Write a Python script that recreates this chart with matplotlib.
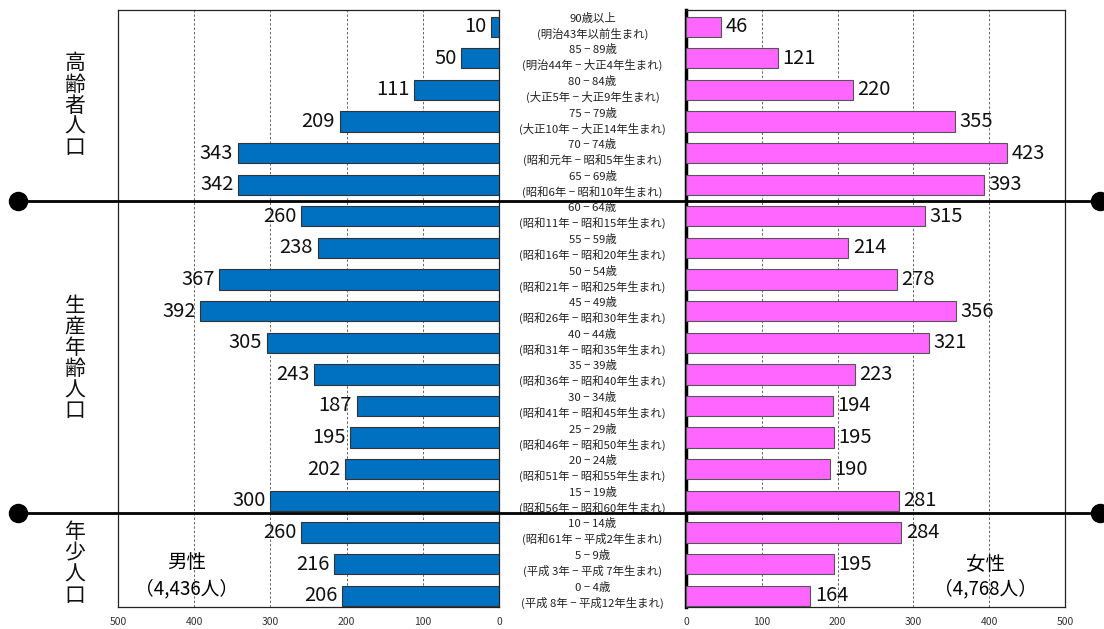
import matplotlib
matplotlib.use("Agg")
import matplotlib.pyplot as plt
import matplotlib.transforms as mtransforms
from matplotlib.lines import Line2D

plt.rcParams['font.family'] = ['Noto Sans CJK JP', 'DejaVu Sans']

# 年齢階級(上から90歳以上 → 0-4歳)
ages = ['90歳以上', '85 − 89歳', '80 − 84歳', '75 − 79歳', '70 − 74歳', '65 − 69歳',
        '60 − 64歳', '55 − 59歳', '50 − 54歳', '45 − 49歳', '40 − 44歳', '35 − 39歳',
        '30 − 34歳', '25 − 29歳', '20 − 24歳', '15 − 19歳', '10 − 14歳', '5 − 9歳', '0 − 4歳']
eras = ['(明治43年以前生まれ)', '(明治44年 − 大正4年生まれ)', '(大正5年 − 大正9年生まれ)',
        '(大正10年 − 大正14年生まれ)', '(昭和元年 − 昭和5年生まれ)', '(昭和6年 − 昭和10年生まれ)',
        '(昭和11年 − 昭和15年生まれ)', '(昭和16年 − 昭和20年生まれ)', '(昭和21年 − 昭和25年生まれ)',
        '(昭和26年 − 昭和30年生まれ)', '(昭和31年 − 昭和35年生まれ)', '(昭和36年 − 昭和40年生まれ)',
        '(昭和41年 − 昭和45年生まれ)', '(昭和46年 − 昭和50年生まれ)', '(昭和51年 − 昭和55年生まれ)',
        '(昭和56年 − 昭和60年生まれ)', '(昭和61年 − 平成2年生まれ)', '(平成 3年 − 平成 7年生まれ)',
        '(平成 8年 − 平成12年生まれ)']
male = [10, 50, 111, 209, 343, 342, 260, 238, 367, 392, 305, 243, 187, 195, 202, 300, 260, 216, 206]
female = [46, 121, 220, 355, 423, 393, 315, 214, 278, 356, 321, 223, 194, 195, 190, 281, 284, 195, 164]
ticks = [0, 100, 200, 300, 400, 500]
groups = ['高齢者人口', '生産年齢人口', '年少人口']
group_rows = [(0, 5), (6, 15), (16, 18)]

n = len(ages)
ypos = [n - 1 - i for i in range(n)]

fig = plt.figure(figsize=(11.04, 6.29), dpi=100)
axL = fig.add_axes([118/1104, 1 - 607/629, 381/1104, 597/629])
axR = fig.add_axes([686/1104, 1 - 607/629, 379/1104, 597/629])

blue = '#0070C0'
pink = '#FF66FF'
bh = 0.64

axL.barh(ypos, male, height=bh, color=blue, edgecolor='#333333', linewidth=0.8, zorder=3)
axR.barh(ypos, female, height=bh, color=pink, edgecolor='#555555', linewidth=0.8, zorder=3)

for y, v in zip(ypos, male):
    axL.text(v + 6, y, str(v), ha='right', va='center', fontsize=14.5, color='#111111', zorder=4)
for y, v in zip(ypos, female):
    axR.text(v + 6, y, str(v), ha='left', va='center', fontsize=14.5, color='#111111', zorder=4)

for ax in (axL, axR):
    ax.set_ylim(-0.36, n - 1 + 0.53)
    ax.set_yticks([])
    ax.set_xticks(ticks)
    ax.set_xticklabels([str(t) for t in ticks], fontsize=7.5, color='#333333')
    ax.tick_params(axis='x', length=0, pad=7)
    for t in [100, 200, 300, 400]:
        ax.axvline(t, color='#666666', linestyle=(0, (2.5, 2)), linewidth=0.7, zorder=1)
    for s in ax.spines.values():
        s.set_linewidth(0.9)
        s.set_color('#222222')

axL.set_xlim(500, 0)
axR.set_xlim(0, 500)
axR.spines['left'].set_linewidth(2.5)
axR.spines['left'].set_color('black')

# 中央の年齢・生まれ年ラベル
mid = mtransforms.blended_transform_factory(fig.transFigure, axL.transData)
xc = (499 + 686) / 2 / 1104
for y, a, e in zip(ypos, ages, eras):
    fig.text(xc, y + 0.27, a, transform=mid, ha='center', va='center', fontsize=8.2, color='#222222')
    fig.text(xc, y - 0.22, e, transform=mid, ha='center', va='center', fontsize=8.2, color='#222222')

# 区分の境界線
for yb in [ypos[5] - 0.5, ypos[15] - 0.4]:
    fig.add_artist(Line2D([18/1104, 1100/1104], [yb, yb], transform=mid, color='black',
                          linewidth=2.0, zorder=10))
    fig.add_artist(Line2D([18/1104, 1100/1104], [yb, yb], transform=mid, linestyle='none',
                          marker='o', markersize=13, color='black', zorder=10))

# 区分名(縦書き)
for name, (r0, r1) in zip(groups, group_rows):
    yc = (ypos[r0] + ypos[r1]) / 2
    fig.text(75/1104, yc, '\n'.join(name), transform=mid, ha='center', va='center',
             fontsize=15, linespacing=0.95, color='#111111')

axL.text(0.18, 0.075, '男性', transform=axL.transAxes, ha='center', va='center', fontsize=14)
axL.text(0.18, 0.03, '（4,436人）', transform=axL.transAxes, ha='center', va='center', fontsize=13.5)
axR.text(0.79, 0.072, '女性', transform=axR.transAxes, ha='center', va='center', fontsize=14)
axR.text(0.79, 0.03, '（4,768人）', transform=axR.transAxes, ha='center', va='center', fontsize=13.5)

fig.savefig('out.png', dpi=100)
